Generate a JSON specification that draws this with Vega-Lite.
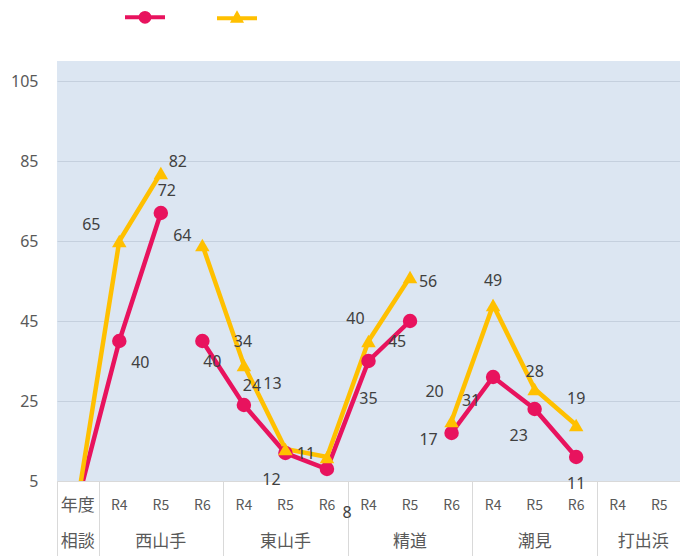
{
  "$schema": "https://vega.github.io/schema/vega-lite/v6.json",
  "width": 623,
  "height": 420,
  "autosize": "none",
  "padding": {"left": 57, "top": 61, "right": 0, "bottom": 75},
  "background": "white",
  "config": {"view": {"fill": "#DCE6F2", "stroke": null}, "font": "Noto Sans"},
  "params": [
    {"name": "off", "expr": "({'系列1西山手-R4':[21,22],'系列1西山手-R5':[6,-22],'系列1西山手-R6':[10,21],'系列1東山手-R4':[8,-19],'系列1東山手-R5':[-14,27],'系列1東山手-R6':[20,44],'系列1精道-R4':[0,38],'系列1精道-R5':[-13,21],'系列1精道-R6':[-23,7],'系列1潮見-R4':[-22,24],'系列1潮見-R5':[-16,27],'系列1潮見-R6':[0,27],'系列2西山手-R4':[-28,-16],'系列2西山手-R5':[17,-11],'系列2西山手-R6':[-20,-9],'系列2東山手-R4':[-1,-23],'系列2東山手-R5':[-13,-65],'系列2東山手-R6':[-21,-3],'系列2精道-R4':[-13,-22],'系列2精道-R5':[18,5],'系列2精道-R6':[-17,-29],'系列2潮見-R4':[0,-24],'系列2潮見-R5':[0,-17],'系列2潮見-R6':[0,-26]})"}
  ],
  "data": {"values": [
    {"series": "系列1", "cat": "年度", "value": 0, "seg": 1},
    {"series": "系列1", "cat": "西山手-R4", "value": 40, "seg": 1},
    {"series": "系列1", "cat": "西山手-R5", "value": 72, "seg": 1},
    {"series": "系列1", "cat": "西山手-R6", "value": 40, "seg": 2},
    {"series": "系列1", "cat": "東山手-R4", "value": 24, "seg": 2},
    {"series": "系列1", "cat": "東山手-R5", "value": 12, "seg": 2},
    {"series": "系列1", "cat": "東山手-R6", "value": 8, "seg": 2},
    {"series": "系列1", "cat": "精道-R4", "value": 35, "seg": 2},
    {"series": "系列1", "cat": "精道-R5", "value": 45, "seg": 2},
    {"series": "系列1", "cat": "精道-R6", "value": 17, "seg": 3},
    {"series": "系列1", "cat": "潮見-R4", "value": 31, "seg": 3},
    {"series": "系列1", "cat": "潮見-R5", "value": 23, "seg": 3},
    {"series": "系列1", "cat": "潮見-R6", "value": 11, "seg": 3},
    {"series": "系列1", "cat": "打出浜-R4", "value": null, "seg": 4},
    {"series": "系列1", "cat": "打出浜-R5", "value": null, "seg": 4},
    {"series": "系列2", "cat": "年度", "value": 0, "seg": 1},
    {"series": "系列2", "cat": "西山手-R4", "value": 65, "seg": 1},
    {"series": "系列2", "cat": "西山手-R5", "value": 82, "seg": 1},
    {"series": "系列2", "cat": "西山手-R6", "value": 64, "seg": 2},
    {"series": "系列2", "cat": "東山手-R4", "value": 34, "seg": 2},
    {"series": "系列2", "cat": "東山手-R5", "value": 13, "seg": 2},
    {"series": "系列2", "cat": "東山手-R6", "value": 11, "seg": 2},
    {"series": "系列2", "cat": "精道-R4", "value": 40, "seg": 2},
    {"series": "系列2", "cat": "精道-R5", "value": 56, "seg": 2},
    {"series": "系列2", "cat": "精道-R6", "value": 20, "seg": 3},
    {"series": "系列2", "cat": "潮見-R4", "value": 49, "seg": 3},
    {"series": "系列2", "cat": "潮見-R5", "value": 28, "seg": 3},
    {"series": "系列2", "cat": "潮見-R6", "value": 19, "seg": 3},
    {"series": "系列2", "cat": "打出浜-R4", "value": null, "seg": 4},
    {"series": "系列2", "cat": "打出浜-R5", "value": null, "seg": 4}
  ]},
  "layer": [
    {
      "mark": {"type": "line", "strokeWidth": 4.5, "clip": true},
      "encoding": {
        "x": {"field": "cat", "type": "nominal",
          "scale": {"domain": ["年度","西山手-R4","西山手-R5","西山手-R6","東山手-R4","東山手-R5","東山手-R6","精道-R4","精道-R5","精道-R6","潮見-R4","潮見-R5","潮見-R6","打出浜-R4","打出浜-R5"], "paddingInner": 0, "paddingOuter": 0},
          "axis": {"orient": "bottom", "title": null, "labelAngle": 0, "labelExpr": "datum.value == '年度' ? '年度' : split(datum.value, '-')[1]", "ticks": false, "domain": true, "domainColor": "#D9D9D9", "labelPadding": 24, "labelBaseline": "middle", "labelFontSize": {"condition": {"test": "datum.value == '年度'", "value": 17}, "value": 14}, "labelColor": "#595959", "labelFont": "Noto Sans CJK JP", "labelOverlap": false, "grid": false}},
        "y": {"field": "value", "type": "quantitative",
          "scale": {"domain": [5, 110], "nice": false, "zero": false},
          "axis": {"values": [5,25,45,65,85,105], "title": null, "domain": false, "ticks": false, "labelPadding": 19, "labelFontSize": 16, "labelColor": "#595959", "gridColor": "#C5D0DE", "gridWidth": 1}},
        "detail": {"field": "seg"},
        "order": {"value": null},
        "color": {"field": "series", "type": "nominal",
          "scale": {"domain": ["系列1","系列2"], "range": ["#E8135E", "#FFC000"]},
          "legend": {"orient": "none", "legendX": 66, "legendY": -66, "direction": "horizontal", "title": null, "labelExpr": "''", "symbolSize": 1600, "symbolStrokeWidth": 4, "columnPadding": 36, "labelOffset": 0, "padding": 0,
            "encode": {"symbols": {"update": {
              "shape": {"signal": "datum.value === '系列1' ? 'M-1,0H1M-0.22,0A0.22,0.22,0,1,1,0.22,0A0.22,0.22,0,1,1,-0.22,0Z' : 'M-1,0H1M0,-0.2L0.18,0.12L-0.18,0.12Z'"},
              "fill": {"scale": "color", "field": "value"},
              "stroke": {"scale": "color", "field": "value"},
              "opacity": {"value": 1}
            }}}}
        }
      }
    },
    {
      "mark": {"type": "point", "shape": "circle", "filled": true, "opacity": 1, "size": 210, "clip": true, "color": "#E8135E"},
      "transform": [{"filter": "datum.value != null && datum.series == '系列1'"}],
      "encoding": {
        "x": {"field": "cat", "type": "nominal",
          "axis": {"orient": "bottom", "title": null, "labelAngle": 0, "values": ["年度","西山手-R5","東山手-R5","精道-R5","潮見-R5","打出浜-R4"], "labelExpr": "datum.value == '年度' ? '相談' : split(datum.value, '-')[0]", "ticks": false, "domain": false, "grid": false, "labelPadding": 60, "labelBaseline": "middle", "labelFontSize": 17, "labelColor": "#595959", "labelFont": "Noto Sans CJK JP", "labelOverlap": false,
            "labelAlign": {"condition": {"test": "datum.value === '打出浜-R4'", "value": "left"}, "value": "center"}}},
        "y": {"field": "value", "type": "quantitative",
          "axis": {"values": [5,25,45,65,85,105], "title": null, "domain": false, "ticks": false, "labelPadding": 19, "labelFontSize": 16, "labelColor": "#595959", "gridColor": "#C5D0DE", "gridWidth": 1}}
      }
    },
    {
      "mark": {"type": "point", "shape": "triangle-up", "filled": true, "opacity": 1, "size": 210, "clip": true, "color": "#FFC000"},
      "transform": [{"filter": "datum.value != null && datum.series == '系列2'"}],
      "encoding": {
        "x": {"field": "cat", "type": "nominal",
          "axis": {"orient": "bottom", "title": null, "values": ["年度","西山手-R6","東山手-R6","精道-R6","潮見-R6"], "tickBand": "extent", "ticks": true, "tickSize": 75, "tickColor": "#D9D9D9", "tickWidth": 1, "labels": false, "domain": false, "grid": false}},
        "y": {"field": "value", "type": "quantitative",
          "axis": {"values": [5,25,45,65,85,105], "title": null, "domain": false, "ticks": false, "labelPadding": 19, "labelFontSize": 16, "labelColor": "#595959", "gridColor": "#C5D0DE", "gridWidth": 1}}
      }
    },
    {
      "mark": {"type": "text", "fontSize": 16, "color": "#404040", "baseline": "middle", "align": "center",
        "dx": {"expr": "off[datum.series + datum.cat][0]"},
        "dy": {"expr": "off[datum.series + datum.cat][1]"}},
      "transform": [{"filter": "datum.value != null && datum.value > 0"}],
      "encoding": {
        "x": {"field": "cat", "type": "nominal", "axis": null},
        "y": {"field": "value", "type": "quantitative",
          "axis": {"values": [5,25,45,65,85,105], "title": null, "domain": false, "ticks": false, "labelPadding": 19, "labelFontSize": 16, "labelColor": "#595959", "gridColor": "#C5D0DE", "gridWidth": 1}},
        "text": {"field": "value", "type": "quantitative"}
      }
    }
  ],
  "resolve": {"axis": {"x": "independent"}}
}
